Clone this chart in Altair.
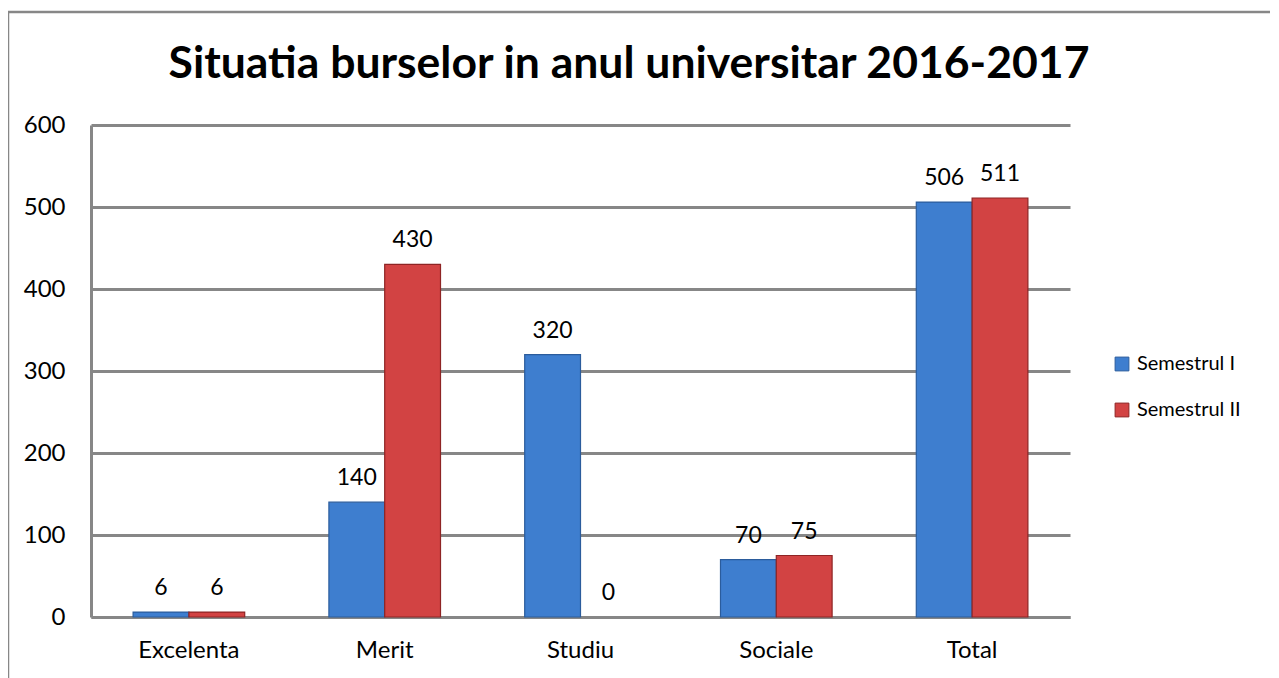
import altair as alt
import pandas as pd

title_text = "Situatia burselor in anul universitar 2016-2017"
categories = ["Excelenta", "Merit", "Studiu", "Sociale", "Total"]
series = ["Semestrul I", "Semestrul II"]
semestrul_1 = [6, 140, 320, 70, 506]
semestrul_2 = [6, 430, 0, 75, 511]
y_ticks = [0, 100, 200, 300, 400, 500, 600]
fill_colors = ["#3E7ECF", "#D24343"]
stroke_colors = ["#2B5C9C", "#8E2424"]

rows = []
for c, a, b in zip(categories, semestrul_1, semestrul_2):
    rows.append({"cat": c, "serie": series[0], "val": a})
    rows.append({"cat": c, "serie": series[1], "val": b})
df = pd.DataFrame(rows)

FONT = "Lato"
GRID = "#878787"

x_enc = alt.X(
    "cat:N", sort=categories,
    scale=alt.Scale(paddingInner=0.43, paddingOuter=0.215),
    axis=alt.Axis(title=None, labelAngle=0, ticks=False, labelPadding=21,
                  labelFontSize=24, labelFont=FONT, labelColor="black",
                  domainColor=GRID, domainWidth=3),
)
y_enc = alt.Y(
    "val:Q",
    scale=alt.Scale(domain=[0, 600], nice=False),
    axis=alt.Axis(title=None, values=y_ticks, ticks=False, labelPadding=26,
                  labelFontSize=24, labelFont=FONT, labelColor="black",
                  domainColor=GRID, domainWidth=3,
                  gridColor=GRID, gridWidth=3),
)
xo = alt.XOffset("serie:N", sort=series, scale=alt.Scale(paddingInner=0, paddingOuter=0))

base = alt.Chart(df)

bars = base.mark_bar(strokeWidth=1.2).encode(
    x=x_enc, y=y_enc, xOffset=xo,
    color=alt.Color("serie:N", sort=series,
                    scale=alt.Scale(domain=series, range=fill_colors),
                    legend=alt.Legend(title=None, orient="none", legendX=1021, legendY=229,
                                      symbolType="square", symbolSize=190,
                                      symbolStrokeWidth=1, labelFontSize=20, labelFont=FONT,
                                      labelColor="black", rowPadding=26, labelOffset=5)),
    stroke=alt.Stroke("serie:N", sort=series,
                      scale=alt.Scale(domain=series, range=stroke_colors), legend=None),
    strokeOpacity=alt.condition("datum.val > 0", alt.value(1), alt.value(0)),
)

labels = base.mark_text(baseline="bottom", dy=-12, fontSize=23, font=FONT, color="black").encode(
    x=x_enc, y=y_enc, xOffset=xo, text="val:Q",
)

frame = alt.Chart(pd.DataFrame({"k": [0]})).mark_rect(
    fill=None, stroke=GRID, strokeWidth=2.5
).encode(
    x=alt.value(-83), x2=alt.value(1200), y=alt.value(-113), y2=alt.value(640)
)

title = alt.Chart(pd.DataFrame({"t": [title_text]})).mark_text(
    fontSize=44.5, font=FONT, fontWeight="bold", color="black",
    align="center", baseline="alphabetic"
).encode(
    text="t:N", x=alt.value(538), y=alt.value(-47)
)

chart = alt.layer(frame, bars, labels, title).properties(
    width=979, height=492,
    autosize=alt.AutoSizeParams(type="none"),
    padding={"left": 83, "top": 117, "right": 200, "bottom": 70},
).configure_view(stroke=None).configure_axis(grid=True).configure_axisX(grid=False)

chart.save("out.html", embed_options={"renderer": "svg", "actions": False})
